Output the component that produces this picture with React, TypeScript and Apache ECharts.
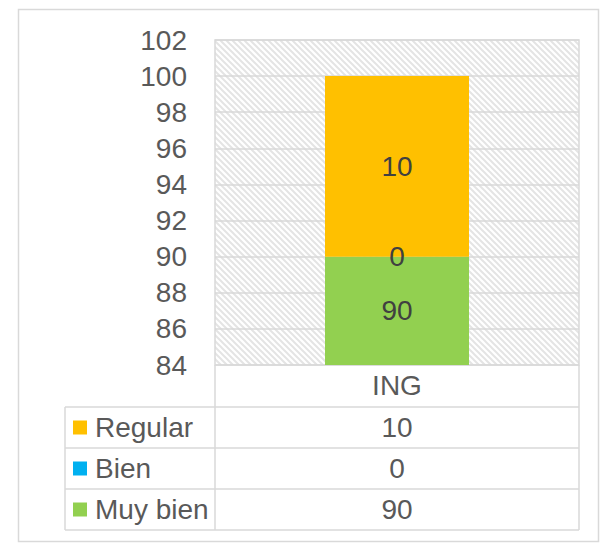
import React, { useEffect, useRef } from "react";
import * as echarts from "echarts";

const categories = ["ING"];
const muyBien = [90];
const bien = [0];
const regular = [10];
const seriesNames = ["Muy bien", "Bien", "Regular"];
const seriesColors = ["#92D050", "#00B0F0", "#FFC000"];
const yMin = 84;
const yMax = 102;
const yStep = 2;

const FONT = "Liberation Sans, Arial, sans-serif";
const TXT = "#595959";
const LINE = "#d9d9d9";

function makePattern(): HTMLCanvasElement {
  const c = document.createElement("canvas");
  const s = 6;
  c.width = s;
  c.height = s;
  const ctx = c.getContext("2d")!;
  ctx.fillStyle = "#ffffff";
  ctx.fillRect(0, 0, s, s);
  ctx.strokeStyle = "#e4e4e4";
  ctx.lineWidth = 2;
  ctx.beginPath();
  ctx.moveTo(-2, -2);
  ctx.lineTo(s + 2, s + 2);
  ctx.moveTo(-2, s - 2);
  ctx.lineTo(2, s + 2);
  ctx.moveTo(s - 2, -2);
  ctx.lineTo(s + 2, 2);
  ctx.stroke();
  return c;
}

export default function App() {
  const ref = useRef<HTMLDivElement>(null);
  useEffect(() => {
    if (!ref.current) return;
    const chart = echarts.init(ref.current, null, { renderer: "svg" });

    const plotL = 215, plotR = 579, plotB = 365, plotT = 40;
    const tableL = 65;
    const headerB = 407;
    const rowH = 41;
    const tableRows = [
      { name: "Regular", color: seriesColors[2], value: regular[0] },
      { name: "Bien", color: seriesColors[1], value: bien[0] },
      { name: "Muy bien", color: seriesColors[0], value: muyBien[0] },
    ];
    const tableB = headerB + rowH * tableRows.length;
    const lineStyle = { stroke: LINE, lineWidth: 1.5 };
    const graphics: any[] = [
      {
        type: "rect",
        shape: { x: 18.5, y: 9.5, width: 580, height: 532 },
        style: { fill: "none", stroke: LINE, lineWidth: 1.5 },
        silent: true,
      },
      { type: "line", shape: { x1: plotL, y1: plotB, x2: plotL, y2: tableB }, style: lineStyle },
      { type: "line", shape: { x1: plotR, y1: plotB, x2: plotR, y2: tableB }, style: lineStyle },
      { type: "line", shape: { x1: tableL, y1: headerB, x2: tableL, y2: tableB }, style: lineStyle },
    ];
    for (let i = 0; i <= tableRows.length; i++) {
      const y = headerB + rowH * i;
      graphics.push({ type: "line", shape: { x1: tableL, y1: y, x2: plotR, y2: y }, style: lineStyle });
    }
    tableRows.forEach((r, i) => {
      const cy = headerB + rowH * i + rowH / 2;
      graphics.push({
        type: "rect",
        shape: { x: 73, y: cy - 7, width: 14, height: 14 },
        style: { fill: r.color },
      });
      graphics.push({
        type: "text",
        x: 95,
        y: cy,
        style: { text: r.name, font: `28px ${FONT}`, fill: TXT, textVerticalAlign: "middle", textAlign: "left" },
      });
      graphics.push({
        type: "text",
        x: (plotL + plotR) / 2,
        y: cy,
        style: { text: String(r.value), font: `28px ${FONT}`, fill: TXT, textVerticalAlign: "middle", textAlign: "center" },
      });
    });

    const dataSets = [muyBien, bien, regular];
    chart.setOption({
      animation: false,
      textStyle: { fontFamily: FONT },
      grid: {
        left: plotL,
        right: 615 - plotR,
        top: plotT,
        bottom: 547 - plotB,
        show: true,
        borderColor: LINE,
        borderWidth: 1.5,
        backgroundColor: { image: makePattern(), repeat: "repeat" },
      },
      xAxis: {
        type: "category",
        data: categories,
        axisLine: { show: false },
        axisTick: { show: false },
        axisLabel: { fontSize: 28, color: TXT, margin: 6, fontFamily: FONT },
      },
      yAxis: {
        type: "value",
        min: yMin,
        max: yMax,
        interval: yStep,
        axisLine: { show: false },
        axisTick: { show: false },
        axisLabel: { fontSize: 28, color: TXT, margin: 28, fontFamily: FONT },
        splitLine: { lineStyle: { color: LINE, width: 1.5 } },
      },
      graphic: graphics,
      series: seriesNames.map((name, i) => ({
        name,
        type: "bar",
        stack: "total",
        data: dataSets[i],
        barWidth: 144,
        itemStyle: { color: seriesColors[i] },
        label: {
          show: true,
          position: "inside",
          fontSize: 28,
          color: "#404040",
          fontFamily: FONT,
        },
      })),
    });
    return () => chart.dispose();
  }, []);
  return (
    <div
      ref={ref}
      style={{ position: "fixed", left: 0, top: 0, width: 615, height: 547, background: "#fff" }}
    />
  );
}
